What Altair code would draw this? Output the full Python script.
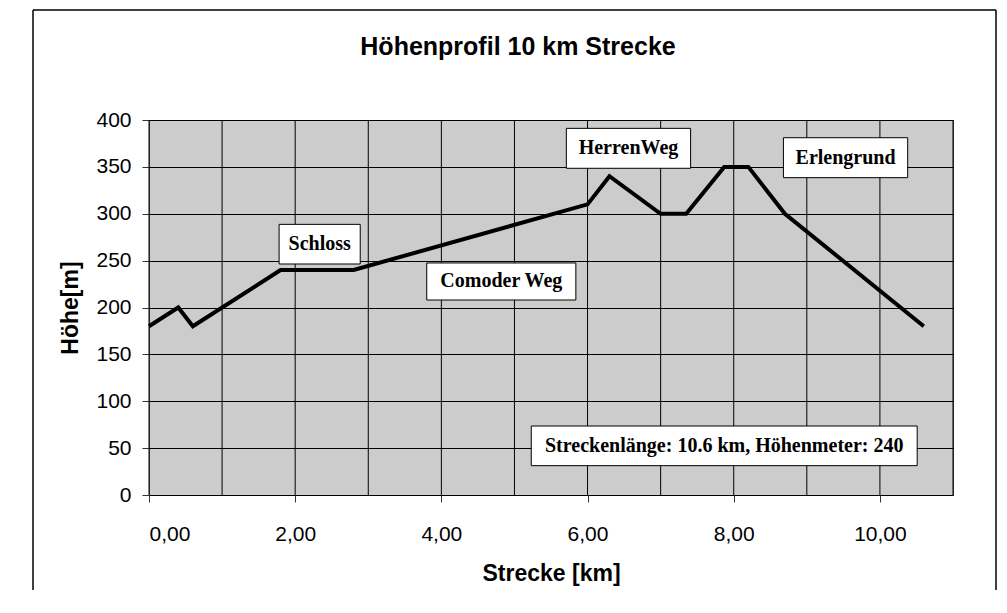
import altair as alt
import pandas as pd

# profile data (km, m)
km = [0.0, 0.4, 0.6, 1.8, 2.8, 6.0, 6.3, 7.0, 7.35, 7.87, 8.2, 8.7, 10.6]
hoehe = [180, 200, 180, 240, 240, 310, 340, 300, 300, 350, 350, 300, 180]

# annotation boxes (data coordinates)
label_text = ["Schloss", "Comoder Weg", "HerrenWeg", "Erlengrund",
              "Streckenlänge: 10.6 km, Höhenmeter: 240"]
label_x0 = [1.78, 3.80, 5.71, 8.68, 5.23]
label_x1 = [2.89, 5.84, 7.41, 10.38, 10.51]
label_y0 = [246.4, 208.0, 348.5, 338.5, 31.3]
label_y1 = [288.7, 247.5, 391.1, 381.1, 73.6]

x_grid = list(range(0, 12))

title_text = "Höhenprofil 10 km Strecke"
x_title = "Strecke [km]"
y_title = "Höhe[m]"

profile = pd.DataFrame({"km": km, "hoehe": hoehe})
labels = pd.DataFrame({"text": label_text, "x0": label_x0, "x1": label_x1,
                       "y0": label_y0, "y1": label_y1})
labels["xc"] = (labels["x0"] + labels["x1"]) / 2
labels["yc"] = (labels["y0"] + labels["y1"]) / 2
vgrid = pd.DataFrame({"g": x_grid})

W, H = 804, 375
XMAX, YMAX = 11, 400
xscale = alt.Scale(domain=[0, XMAX], nice=False, zero=True)
yscale = alt.Scale(domain=[0, YMAX], nice=False)

def px2x(p):  # pixel offset from plot left -> km
    return p / W * XMAX

def px2y(p):  # pixel offset from plot top -> m
    return YMAX - p / H * YMAX

SANS = "Liberation Sans"
SERIF = "Liberation Serif"

x_axis = alt.Axis(
    tickCount=6, grid=False,
    labelExpr="replace(format(datum.value, '.2f'), '.', ',')",
    labelFont=SANS, labelFontSize=21, labelColor="#000000",
    labelBaseline="alphabetic", labelPadding=38,
    tickSize=7, tickColor="#333333",
    domain=False,
    title=x_title, titleFont=SANS, titleFontSize=23, titleFontWeight="bold",
    titleColor="#000000", titleBaseline="alphabetic", titleX=402, titleY=85,
    titleAlign="center",
)
y_axis = alt.Axis(
    tickCount=8, grid=True, gridColor="#000000", gridWidth=1, gridOpacity=1,
    labelFont=SANS, labelFontSize=21, labelColor="#000000",
    labelBaseline="middle", labelPadding=11,
    tickSize=7, tickColor="#333333", domain=False,
    title=y_title, titleFont=SANS, titleFontSize=23, titleFontWeight="bold",
    titleColor="#000000", titleBaseline="alphabetic", titleAngle=270,
    titleX=-72, titleY=187.5, titleAlign="center",
)

line = alt.Chart(profile).mark_line(color="#000000", strokeWidth=4, strokeJoin="miter").encode(
    x=alt.X("km:Q", scale=xscale, axis=x_axis),
    y=alt.Y("hoehe:Q", scale=yscale, axis=y_axis),
)

grid = alt.Chart(vgrid).mark_rule(color="#000000", strokeWidth=1).encode(
    x=alt.X("g:Q", scale=xscale, axis=x_axis),
)

boxes = alt.Chart(labels).mark_rect(fill="#ffffff", stroke="#000000", strokeWidth=1).encode(
    x=alt.X("x0:Q", scale=xscale, axis=x_axis),
    x2="x1:Q",
    y=alt.Y("y0:Q", scale=yscale, axis=y_axis),
    y2="y1:Q",
)

texts = alt.Chart(labels).mark_text(font=SERIF, fontSize=20, fontWeight="bold",
                                     color="#000000", baseline="middle", align="center").encode(
    x=alt.X("xc:Q", scale=xscale, axis=x_axis),
    y=alt.Y("yc:Q", scale=yscale, axis=y_axis),
    text="text:N",
)

one = pd.DataFrame({"t": [title_text]})
title = alt.Chart(one).mark_text(font=SANS, fontSize=25, fontWeight="bold", color="#000000",
                                 align="center", baseline="alphabetic").encode(
    x=alt.XDatum(px2x(369), type="quantitative", scale=xscale, axis=x_axis),
    y=alt.YDatum(px2y(-65), type="quantitative", scale=yscale, axis=y_axis),
    text="t:N",
)

# outer frame (left, top, right edges; bottom lies below the picture)
FL, FR, FT, FB = -116, 847, -110, 470
frame_left = alt.Chart(one).mark_rule(color="#000000", strokeWidth=1.5).encode(
    x=alt.XDatum(px2x(FL), type="quantitative", scale=xscale, axis=x_axis),
    y=alt.YDatum(px2y(FT), type="quantitative", scale=yscale, axis=y_axis),
    y2=alt.Y2Datum(px2y(FB)),
)
frame_right = alt.Chart(one).mark_rule(color="#000000", strokeWidth=1.5).encode(
    x=alt.XDatum(px2x(FR), type="quantitative", scale=xscale, axis=x_axis),
    y=alt.YDatum(px2y(FT), type="quantitative", scale=yscale, axis=y_axis),
    y2=alt.Y2Datum(px2y(FB)),
)
frame_top = alt.Chart(one).mark_rule(color="#000000", strokeWidth=1.5).encode(
    x=alt.XDatum(px2x(FL), type="quantitative", scale=xscale, axis=x_axis),
    x2=alt.X2Datum(px2x(FR)),
    y=alt.YDatum(px2y(FT), type="quantitative", scale=yscale, axis=y_axis),
)

chart = alt.layer(line, grid, boxes, texts, title, frame_left, frame_right, frame_top).properties(
    width=W, height=H,
    padding={"left": 24, "top": 1, "right": 0, "bottom": 0},
    background="#ffffff",
).configure_view(
    fill="#cccccc", stroke="#444444", strokeWidth=1,
)

chart.save("out.html", embed_options={"renderer": "svg", "actions": False})
